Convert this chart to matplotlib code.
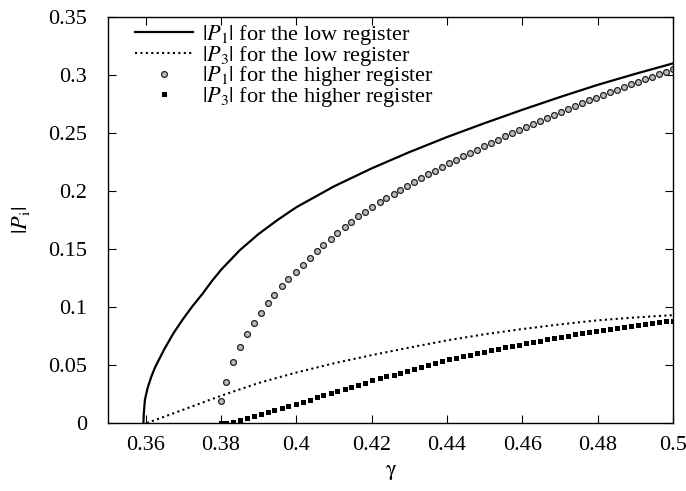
import matplotlib
matplotlib.use("Agg")
import matplotlib.pyplot as plt

plt.rcParams['font.family'] = ['Liberation Serif', 'DejaVu Serif']
plt.rcParams['mathtext.fontset'] = 'stix'

# low register, |P1|
gamma_low_p1 = [0.3594, 0.3595, 0.3598, 0.3605, 0.3615, 0.3625, 0.365, 0.3675, 0.37,
                0.3725, 0.375, 0.3775, 0.38, 0.385, 0.39, 0.395, 0.40, 0.41, 0.42,
                0.43, 0.44, 0.45, 0.46, 0.47, 0.48, 0.49, 0.50]
p1_low = [0.000, 0.008, 0.020, 0.030, 0.040, 0.048, 0.064, 0.078, 0.090,
          0.101, 0.111, 0.122, 0.132, 0.149, 0.163, 0.175, 0.186, 0.204, 0.2195,
          0.2335, 0.2465, 0.2585, 0.270, 0.281, 0.2915, 0.301, 0.310]

# low register, |P3|
gamma_low_p3 = [0.3603, 0.365, 0.37, 0.375, 0.38, 0.385, 0.39, 0.40, 0.41, 0.42,
                0.43, 0.44, 0.45, 0.46, 0.47, 0.48, 0.49, 0.50]
p3_low = [0.0, 0.0055, 0.0115, 0.0175, 0.0235, 0.029, 0.0345, 0.0435, 0.0515, 0.0585,
          0.065, 0.0712, 0.0765, 0.081, 0.085, 0.0885, 0.091, 0.093]

# higher register
gamma_high = [0.3801, 0.3813, 0.3831, 0.3850, 0.3868, 0.3887, 0.3905, 0.3924, 0.3942,
              0.3961, 0.3979, 0.3998, 0.4017, 0.4035, 0.4054, 0.4072, 0.4091, 0.4109,
              0.4128, 0.4146, 0.4165, 0.4183, 0.4202, 0.4221, 0.4239, 0.4258, 0.4276,
              0.4295, 0.4313, 0.4332, 0.4350, 0.4369, 0.4388, 0.4406, 0.4425, 0.4443,
              0.4462, 0.4480, 0.4499, 0.4517, 0.4536, 0.4554, 0.4573, 0.4592, 0.4610,
              0.4629, 0.4647, 0.4666, 0.4684, 0.4703, 0.4721, 0.4740, 0.4759, 0.4777,
              0.4796, 0.4814, 0.4833, 0.4851, 0.4870, 0.4888, 0.4907, 0.4925, 0.4944,
              0.4963, 0.4981, 0.5000]
p1_high = [0.0190, 0.0353, 0.0528, 0.0655, 0.0765, 0.0863, 0.0951, 0.1032, 0.1107,
           0.1177, 0.1243, 0.1306, 0.1366, 0.1424, 0.1480, 0.1536, 0.1590, 0.1642,
           0.1691, 0.1737, 0.1781, 0.1823, 0.1864, 0.1903, 0.1940, 0.1976, 0.2011,
           0.2045, 0.2079, 0.2112, 0.2144, 0.2176, 0.2207, 0.2238, 0.2268, 0.2298,
           0.2328, 0.2357, 0.2386, 0.2415, 0.2443, 0.2471, 0.2499, 0.2526, 0.2553,
           0.2580, 0.2606, 0.2632, 0.2658, 0.2683, 0.2708, 0.2733, 0.2757, 0.2781,
           0.2805, 0.2828, 0.2851, 0.2874, 0.2897, 0.2920, 0.2942, 0.2964, 0.2986,
           0.3008, 0.3029, 0.3050]
p3_high = [0.0000, 0.0003, 0.0008, 0.0023, 0.0040, 0.0058, 0.0075, 0.0093, 0.0111,
           0.0129, 0.0147, 0.0165, 0.0183, 0.0201, 0.0220, 0.0239, 0.0258, 0.0277,
           0.0295, 0.0313, 0.0331, 0.0349, 0.0367, 0.0384, 0.0401, 0.0418, 0.0435,
           0.0452, 0.0469, 0.0486, 0.0502, 0.0518, 0.0533, 0.0548, 0.0562, 0.0576,
           0.0589, 0.0602, 0.0615, 0.0628, 0.0640, 0.0652, 0.0664, 0.0676, 0.0688,
           0.0700, 0.0711, 0.0722, 0.0733, 0.0743, 0.0753, 0.0763, 0.0773, 0.0783,
           0.0793, 0.0802, 0.0811, 0.0820, 0.0829, 0.0838, 0.0846, 0.0854, 0.0862,
           0.0869, 0.0876, 0.0882]

x_ticks = [0.36, 0.38, 0.40, 0.42, 0.44, 0.46, 0.48, 0.50]
x_ticklabels = ['0.36', '0.38', '0.4', '0.42', '0.44', '0.46', '0.48', '0.5']
y_ticks = [0, 0.05, 0.1, 0.15, 0.2, 0.25, 0.3, 0.35]
y_ticklabels = ['0', '0.05', '0.1', '0.15', '0.2', '0.25', '0.3', '0.35']

FS = 16

fig = plt.figure(figsize=(6.86, 4.91), dpi=100)
ax = fig.add_axes([108/686, 1 - 423/491, 565/686, 406/491])

ax.plot(gamma_low_p1, p1_low, '-', color='black', lw=1.6,
        label=r'$|P_1|$ for the low register')
ax.plot(gamma_low_p3, p3_low, color='black', lw=1.5, linestyle=(0, (1, 1.6)),
        label=r'$|P_3|$ for the low register')
ax.plot(gamma_high, p1_high, 'o', ms=4.2, mfc='#bbbbbb', mec='#222222', mew=0.9,
        label=r'$|P_1|$ for the higher register')
ax.plot(gamma_high, p3_high, 's', ms=3.6, color='black', mew=0,
        label=r'$|P_3|$ for the higher register')

ax.set_xlim(0.35, 0.50)
ax.set_ylim(0, 0.35)
ax.set_xticks(x_ticks)
ax.set_xticklabels(x_ticklabels)
ax.set_yticks(y_ticks)
ax.set_yticklabels(y_ticklabels)
ax.tick_params(direction='in', top=True, right=True, length=6, width=0.8,
               labelsize=FS)
ax.tick_params(axis='x', pad=9)
ax.tick_params(axis='y', pad=15)
for s in ax.spines.values():
    s.set_linewidth(1.0)

ax.set_xlabel(r'$\mathrm{\gamma}$', fontsize=FS, labelpad=6)
ax.set_ylabel(r'$|P_\mathrm{i}|$', fontsize=FS, labelpad=12)

ax.legend(loc='upper left', bbox_to_anchor=(0.048, 0.985), frameon=False,
          fontsize=FS, handlelength=2.6, handletextpad=0.4, labelspacing=-0.15,
          borderaxespad=0.0, borderpad=0.0)

fig.savefig('out.png', dpi=100)
